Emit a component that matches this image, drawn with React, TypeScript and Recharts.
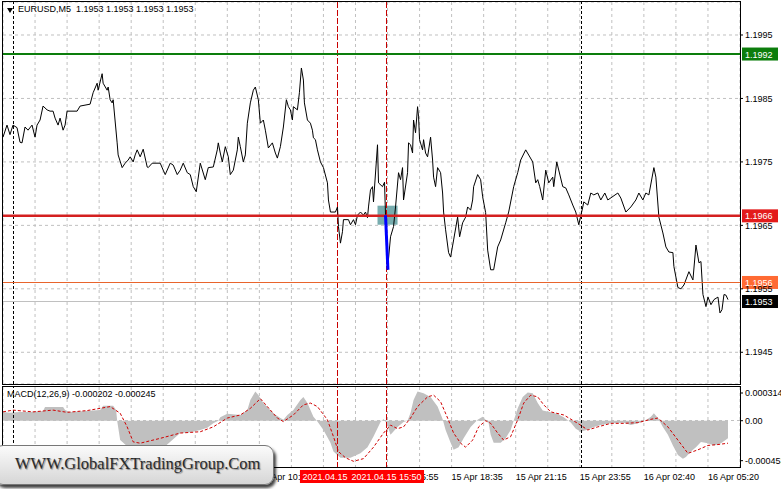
import React from 'react';
import {
  ComposedChart,
  Line,
  Area,
  XAxis,
  YAxis,
  CartesianGrid,
  ReferenceLine,
  ReferenceArea,
} from 'recharts';

const FONT = '"Liberation Sans", Arial, sans-serif';

const priceBars = [
  0, 2, 3.5, 5, 7, 8.5, 9.5, 11, 12.5, 14.5, 16, 17, 18.5, 20, 22, 23.5, 25, 26, 27.5, 28.5,
  30, 31, 32, 37, 38.5, 43.5, 45, 47, 47.5, 49.5, 50, 52, 52.5, 53.5, 54.5, 55, 57, 57.5, 59.5, 61,
  62.5, 63.5, 65, 66, 67, 68.5, 70, 72, 72.5, 74.5, 78.5, 80, 81, 83.5, 85, 87, 88.5, 90, 92, 93.5,
  95, 96.5, 98.5, 101, 102.5, 105, 107, 107.5, 108.5, 109.5, 111, 112.5, 113.5, 115, 117, 117.5, 118.5, 120, 121, 122,
  123.5, 125, 126, 127.5, 128.5, 130, 131, 132.5, 134.5, 136, 137, 138.5, 140, 141.5, 142.5, 143.5, 144.5, 145, 147, 148,
  149, 150, 150.5, 152, 153.5, 154.5, 155, 156, 157, 158.5, 160, 162, 162.5, 163.5, 166, 167, 167.5, 168.5, 169.5, 170,
  172.5, 173.5, 175, 176, 177, 178.5, 180, 181, 182, 182.5, 183.5, 184.5, 185, 187, 187.5, 189.5, 190.5, 191, 192, 193.5,
  195, 196, 197.5, 198.5, 199.5, 200, 202, 202.5, 203.5, 204.5, 205, 206, 207, 207.5, 208, 209.5, 210, 211, 212, 213.5,
  214.5, 215, 216, 217, 218.5, 219.5, 220, 221, 222.5, 223.5, 225, 227, 228, 229.5, 231, 232, 233.5, 234.5, 235, 237,
  238.5, 239.5, 241, 242, 243.5, 245, 247, 248.5, 251, 252.5, 255, 257, 258.5, 261, 264.5, 266, 267, 268, 269.5, 271,
  272.5, 274.5, 275, 276.5, 279.5, 281, 282.5, 284.5, 286, 287.5, 289.5, 290, 292, 293.5, 295, 297, 298.5, 300.5, 302, 307,
  308.5, 311, 313.5, 316, 317.5, 319.5, 321, 322.5, 325, 326, 327.5, 329.5, 331, 332.5, 334.5, 335, 337, 338.5, 340, 342.5,
  344.5, 346, 347.5, 348.5, 349.5, 351, 352, 353.5, 355, 357, 358, 359, 360, 361, 362,
];

const priceValues = [
  1.19789, 1.19808, 1.19793, 1.19808, 1.19804, 1.19781, 1.1978, 1.19805, 1.198, 1.19808, 1.19789, 1.19808, 1.19816, 1.19838, 1.19832, 1.1983, 1.1983, 1.19819, 1.19808, 1.19819,
  1.198, 1.19808, 1.1983, 1.1983, 1.19838, 1.19841, 1.19859, 1.19874, 1.19863, 1.19889, 1.19874, 1.19863, 1.19868, 1.19848, 1.19843, 1.19848, 1.1978, 1.19761, 1.19741, 1.19748,
  1.19753, 1.19758, 1.1975, 1.19761, 1.19769, 1.19758, 1.1977, 1.19742, 1.19741, 1.19748, 1.19748, 1.19737, 1.1973, 1.19748, 1.19745, 1.1973, 1.19737, 1.19748, 1.19733, 1.1973,
  1.19711, 1.19703, 1.19748, 1.19722, 1.19741, 1.19742, 1.19769, 1.1978, 1.19764, 1.1975, 1.19774, 1.19758, 1.1973, 1.19737, 1.19769, 1.19789, 1.19774, 1.1975, 1.19761, 1.19811,
  1.19843, 1.19863, 1.19868, 1.19848, 1.19811, 1.19816, 1.198, 1.19772, 1.1978, 1.19764, 1.19756, 1.19774, 1.19805, 1.19848, 1.19837, 1.19832, 1.19816, 1.19837, 1.19832, 1.19859,
  1.19898, 1.19879, 1.19843, 1.19816, 1.19811, 1.198, 1.19788, 1.19785, 1.19769, 1.1975, 1.19741, 1.19717, 1.1969, 1.19671, 1.19671, 1.19679, 1.19648, 1.19622, 1.1964, 1.19659,
  1.19659, 1.19651, 1.19659, 1.19651, 1.19666, 1.19671, 1.19666, 1.19671, 1.19662, 1.19679, 1.19706, 1.19711, 1.19687, 1.19777, 1.19717, 1.19711, 1.19718, 1.19666, 1.1958, 1.19632,
  1.19648, 1.19679, 1.19733, 1.19722, 1.19741, 1.1969, 1.19733, 1.1978, 1.19777, 1.19764, 1.19816, 1.19796, 1.19837, 1.19821, 1.19785, 1.19769, 1.19785, 1.19764, 1.19758, 1.19789,
  1.19753, 1.19726, 1.19711, 1.19741, 1.19733, 1.19701, 1.19671, 1.19643, 1.19607, 1.196, 1.19627, 1.19663, 1.19632, 1.19654, 1.19663, 1.19679, 1.19674, 1.1969, 1.19711, 1.1973,
  1.19722, 1.19695, 1.1967, 1.19611, 1.1958, 1.1958, 1.19616, 1.19627, 1.19654, 1.19671, 1.19711, 1.19733, 1.19753, 1.19769, 1.1975, 1.19717, 1.19722, 1.19711, 1.1969, 1.19737,
  1.19717, 1.19726, 1.19711, 1.1975, 1.19711, 1.19709, 1.19698, 1.19682, 1.19671, 1.19651, 1.19679, 1.19687, 1.19682, 1.19701, 1.19698, 1.19701, 1.1969, 1.19701, 1.1969, 1.19701,
  1.19693, 1.19671, 1.19679, 1.1969, 1.19701, 1.1969, 1.19701, 1.19698, 1.19741, 1.19726, 1.19663, 1.19638, 1.19616, 1.19608, 1.19607, 1.19585, 1.19552, 1.1955, 1.19556, 1.19577,
  1.19564, 1.19619, 1.19591, 1.19593, 1.19541, 1.19522, 1.19537, 1.19525, 1.19533, 1.19537, 1.19512, 1.19517, 1.19541, 1.1954, 1.19533,
];

// MACD histogram outline
const histBars = [
  0, 3.5, 8.5, 13.5, 20, 21, 30, 31, 33.5, 48.5, 50, 55, 56.5, 57, 58.5, 62, 65, 68.5, 73.5, 81,
  88.5, 93.5, 98.5, 102, 105, 107.5, 108.5, 112, 118.5, 122, 123.5, 126, 127.5, 130, 135, 138.5, 140, 142, 145, 148.5,
  150, 152, 155, 157, 160, 163.5, 165, 168.5, 173.5, 178.5, 182, 185, 188.5, 190, 191.5, 193.5, 197, 200, 202, 203.5,
  205, 207, 210, 213.5, 217, 219.5, 221, 223.5, 225, 227.5, 230, 233.5, 237, 239.5, 241, 242.5, 243.5, 245, 248.5, 251,
  253.5, 255, 257, 259.5, 262, 264.5, 267, 269.5, 273.5, 277, 280, 283.5, 286, 288.5, 292, 295, 298.5, 303.5, 310, 313.5,
  317, 320, 323.5, 325, 327, 329.5, 332, 334.5, 337, 339.5, 341, 343.5, 346, 348.5, 352, 355, 358.5, 362,
];

const histValues = [
  0.0001, 0.00009, 0.0001, 0.0001, 0.00011, 0.000155, 0.000155, 0.00012, 0.0001, 0.00012, 0.00017, 0.00017, 0.00012, 0, -0.00022, -0.00029, -0.00036, -0.00039, -0.00036, -0.00029,
  -0.00014, -0.00013, -0.000105, -0.00008, -0.00003, 0, 0.00004, 0.00008, 0.000065, 0.00012, 0.000235, 0.00033, 0.00029, 0.0002, 0.000085, 0.00003, 0.00001, 0.000065, 0.00012, 0.000235,
  0.00027, 0.0002, 0.000045, -0.00001, -0.000105, -0.00025, -0.00035, -0.00042, -0.00042, -0.00037, -0.0003, -0.00018, -0.000015, 0.00002, -0.00003, -0.00016, -0.00007, -0.000015, 0, 0.00009,
  0.000235, 0.00033, 0.00031, 0.00027, 0.00016, 0.00002, -0.000105, -0.00025, -0.00033, -0.0003, -0.0002, -0.00007, 0.00001, 0.000045, 0.00001, -0.00003, -0.00016, -0.00025, -0.00025, -0.0002,
  -0.000105, 0, 0.00014, 0.00027, 0.00032, 0.00031, 0.0002, 0.000115, 0.000095, 0.000075, 0.00004, -0.00002, -0.00009, -0.000125, -0.0001, -0.00007, -0.00005, -0.00003, -0.000022, -0.00005,
  -0.00003, -0.00001, 0.000045, 0.000085, 0.00003, -0.00007, -0.00016, -0.00028, -0.00039, -0.00043, -0.00041, -0.00035, -0.0003, -0.00024, -0.000255, -0.00028, -0.000255, -0.0002,
];

// MACD signal line
const signalBars = [
  0, 5, 15, 25, 32, 42, 48.5, 53.5, 58.5, 62, 65, 68.5, 78.5, 88.5, 98.5, 105, 112, 118.5, 123.5, 128.5,
  132, 137, 140, 145, 150, 153.5, 157, 162, 165, 167.5, 171, 175, 180, 185, 190, 193.5, 197, 200, 203.5, 207,
  212, 215, 218.5, 222, 225, 228.5, 231, 234.5, 237.5, 241, 243.5, 247, 250, 253.5, 257, 260, 263.5, 267, 270, 273.5,
  280, 287, 292, 297, 303.5, 310, 317, 323.5, 327, 332, 337, 342, 347, 352, 357, 362,
];

const signalValues = [
  0.0001, 0.00012, 0.0001, 0.00012, 0.000095, 0.000115, 0.00014, 0.00016, 0.000085, -0.00007, -0.00024, -0.000255, -0.0002, -0.00014, -0.000125, -0.00007, 0.00003, 0.000065, 0.00014, 0.00025,
  0.00016, 0.00003, -0.00001, 0.000065, 0.00018, 0.0002, 0.00016, 0.00001, -0.00018, -0.00035, -0.00042, -0.00046, -0.00043, -0.0003, -0.00014, -0.00005, -0.00009, -0.00007, 0.00003, 0.00016,
  0.00027, 0.00029, 0.000215, 0.00003, -0.00014, -0.000255, -0.0003, -0.00022, -0.00007, 0, -0.00003, -0.00014, -0.00022, -0.00018, 0.00001, 0.0002, 0.00029, 0.00027, 0.00018, 0.0001,
  0.000065, -0.00003, -0.000105, -0.00007, -0.00003, -0.00003, -0.000022, 0.000016, 0.00003, -0.00007, -0.00022, -0.00037, -0.00033, -0.00028, -0.00027, -0.000255,
];

const priceTicks = [1.1945, 1.1955, 1.1965, 1.1975, 1.1985, 1.1995];
const macdTicks = [0.000314, 0, -0.000453];
const gridBars = [16, 32, 48, 64, 80, 96, 112, 128, 144, 160, 176, 192, 208, 224, 240, 256, 272, 288, 304, 320, 336, 352];
const timeTickBars = [32, 64, 96, 128, 160, 192, 224, 256, 288, 320, 352];
const timeTickLabels = [
  '15 Apr 02:35', '15 Apr 05:15', '15 Apr 07:55', '15 Apr 10:35', '15 Apr 13:15', '15 Apr 15:55',
  '15 Apr 18:35', '15 Apr 21:15', '15 Apr 23:55', '16 Apr 02:40', '16 Apr 05:20',
];

const priceData = priceBars.map((bar, i) => ({ bar, price: priceValues[i] }));
const histData = histBars.map((bar, i) => ({ bar, hist: histValues[i] }));
const signalData = signalBars.map((bar, i) => ({ bar, signal: signalValues[i] }));

const MAIN_DOMAIN = [1.194, 1.20002];
const MACD_DOMAIN = [-0.000536, 0.000382];
const MARKER_RED = '#c80000';

const priceTag = (text: string, bg: string) => (props: any) => {
  const vb = props.viewBox;
  if (!vb) return null;
  const x = Math.max(vb.x, vb.x + vb.width) + 2;
  const y = vb.y;
  return (
    <g>
      <rect x={x} y={y - 6.5} width={36} height={13} fill={bg} />
      <text x={x + 3} y={y + 3.5} fill="#fff" fontSize={9} fontFamily={FONT}>
        {text}
      </text>
    </g>
  );
};

const timeTag = (text: string) => (props: any) => {
  const vb = props.viewBox;
  if (!vb) return null;
  const bottom = Math.max(vb.y, vb.y + vb.height);
  return (
    <g>
      <rect x={vb.x - 37.5} y={bottom + 2} width={75} height={13} fill="#ff0000" />
      <text x={vb.x} y={bottom + 12} fill="#fff" fontSize={9} fontFamily={FONT} textAnchor="middle">
        {text}
      </text>
    </g>
  );
};

const TimeTick = (props: any) => {
  const { x, y, payload } = props;
  const idx = timeTickBars.indexOf(payload.value);
  if (idx < 0) return <g />;
  return (
    <text x={x} y={y + 12} textAnchor="start" fontSize={9} fontFamily={FONT} fill="#000">
      {timeTickLabels[idx]}
    </text>
  );
};

const tickStyle = { fontSize: 9, fontFamily: FONT, fill: '#000' };
const abs = (top: number): React.CSSProperties => ({ position: 'absolute', left: 0, top });

const App: React.FC = () => {
  return (
    <div style={{ position: 'absolute', left: 0, top: 0, width: 781, height: 489, background: '#fff', overflow: 'hidden' }}>
      <div style={abs(0)}>
        <ComposedChart width={781} height={386} margin={{ top: 2, right: 0, bottom: 2, left: 3 }}>
          <CartesianGrid stroke="#c0c0c0" strokeDasharray="3 3" />
          <XAxis type="number" dataKey="bar" domain={[0, 368]} ticks={gridBars} interval={0} hide allowDataOverflow />
          <YAxis
            orientation="right"
            width={41}
            domain={MAIN_DOMAIN}
            ticks={priceTicks}
            interval={0}
            allowDataOverflow
            axisLine={false}
            tickLine={{ stroke: '#000' }}
            tickSize={3}
            tickMargin={2}
            tick={tickStyle}
            tickFormatter={(v: number) => v.toFixed(4)}
          />
          <ReferenceLine x={5} stroke="#000" strokeDasharray="3 2" shapeRendering="crispEdges" />
          <ReferenceLine x={289} stroke="#000" strokeDasharray="3 2" shapeRendering="crispEdges" />
          <ReferenceLine x={167} stroke={MARKER_RED} strokeDasharray="6 2" shapeRendering="crispEdges" />
          <ReferenceLine x={191.5} stroke={MARKER_RED} strokeDasharray="6 2" shapeRendering="crispEdges" />
          <ReferenceArea x1={187} x2={197} y1={1.19651} y2={1.19681} fill="#5f9ea0" fillOpacity={0.85} stroke="none" />
          <ReferenceLine y={1.1953} stroke="#c0c0c0" shapeRendering="crispEdges" label={priceTag('1.1953', '#000')} />
          <Line data={priceData} dataKey="price" type="linear" stroke="#000" strokeWidth={1} dot={false} isAnimationActive={false} />
          <ReferenceLine y={1.1992} stroke="#0c7d0c" strokeWidth={2} label={priceTag('1.1992', '#0c7d0c')} />
          <ReferenceLine y={1.19665} stroke="#d42020" strokeWidth={2.5} label={priceTag('1.1966', '#e31b1b')} />
          <ReferenceLine y={1.1956} stroke="#e8642c" strokeWidth={1} shapeRendering="crispEdges" label={priceTag('1.1956', '#ff6a33')} />
          <ReferenceLine
            segment={[{ x: 191, y: 1.19666 }, { x: 192.2, y: 1.1958 }]}
            stroke="#0000ff"
            strokeWidth={3}
          />
        </ComposedChart>
      </div>

      {/* MACD panel with the time axis */}
      <div style={abs(386)}>
        <ComposedChart width={781} height={103} margin={{ top: 1, right: 0, bottom: 0, left: 3 }}>
          <CartesianGrid horizontal={false} stroke="#c0c0c0" strokeDasharray="3 3" />
          <XAxis
            type="number"
            dataKey="bar"
            domain={[0, 368]}
            ticks={gridBars}
            interval={0}
            allowDataOverflow
            axisLine={false}
            tickLine={false}
            tickSize={0}
            tickMargin={0}
            height={21}
            tick={<TimeTick />}
          />
          <YAxis
            orientation="right"
            width={41}
            domain={MACD_DOMAIN}
            ticks={macdTicks}
            interval={0}
            allowDataOverflow
            axisLine={false}
            tickLine={{ stroke: '#000' }}
            tickSize={3}
            tickMargin={2}
            tick={tickStyle}
            tickFormatter={(v: number) => (v === 0 ? '0.00' : String(v))}
          />
          <ReferenceLine y={0} stroke="#c0c0c0" strokeDasharray="3 3" shapeRendering="crispEdges" />
          <ReferenceLine x={5} stroke="#000" strokeDasharray="3 2" shapeRendering="crispEdges" />
          <ReferenceLine x={289} stroke="#000" strokeDasharray="3 2" shapeRendering="crispEdges" />
          <Area
            data={histData}
            dataKey="hist"
            type="linear"
            baseValue={0}
            fill="#c0c0c0"
            fillOpacity={1}
            stroke="none"
            isAnimationActive={false}
          />
          <Line
            data={signalData}
            dataKey="signal"
            type="linear"
            stroke="#d00000"
            strokeWidth={1}
            strokeDasharray="3 2"
            dot={false}
            isAnimationActive={false}
          />
        </ComposedChart>
      </div>

      {/* vertical time markers, drawn over the time axis labels */}
      <div style={abs(386)}>
        <ComposedChart width={781} height={103} margin={{ top: 1, right: 0, bottom: 0, left: 3 }}>
          <XAxis type="number" dataKey="bar" domain={[0, 368]} allowDataOverflow axisLine={false} tickLine={false} tick={false} height={21} />
          <YAxis orientation="right" width={41} domain={MACD_DOMAIN} allowDataOverflow axisLine={false} tickLine={false} tick={false} />
          <ReferenceLine x={167} stroke={MARKER_RED} strokeDasharray="6 2" shapeRendering="crispEdges" label={timeTag('2021.04.15 13:50')} />
          <ReferenceLine x={191.5} stroke={MARKER_RED} strokeDasharray="6 2" shapeRendering="crispEdges" label={timeTag('2021.04.15 15:50')} />
        </ComposedChart>
      </div>

      {/* panel frames */}
      <div style={{ position: 'absolute', left: 2, top: 1, width: 739, height: 384, border: '1px solid #000', boxSizing: 'border-box', pointerEvents: 'none' }} />
      <div style={{ position: 'absolute', left: 2, top: 386, width: 739, height: 82, border: '1px solid #000', boxSizing: 'border-box', pointerEvents: 'none' }} />

      <div style={{ position: 'absolute', left: 7, top: 8, width: 0, height: 0, borderLeft: '3px solid transparent', borderRight: '3px solid transparent', borderTop: '5px solid #000' }} />
      <div style={{ position: 'absolute', left: 18, top: 4, fontSize: 9, fontFamily: FONT, whiteSpace: 'pre', color: '#000' }}>
        {'EURUSD,M5  1.1953 1.1953 1.1953 1.1953'}
      </div>
      <div style={{ position: 'absolute', left: 7, top: 389, fontSize: 9, fontFamily: FONT, whiteSpace: 'pre', color: '#000' }}>
        {'MACD(12,26,9) -0.000202 -0.000245'}
      </div>

      {/* watermark */}
      <div
        style={{
          position: 'absolute',
          left: -6,
          top: 445,
          width: 280,
          height: 40,
          borderRadius: 9,
          background: 'linear-gradient(#fbfbfb, #d6d6d6)',
          border: '1px solid #777',
          boxShadow: '2px 3px 3px rgba(0,0,0,0.75)',
          boxSizing: 'border-box',
        }}
      >
        <div
          style={{
            position: 'absolute',
            left: 20,
            top: 8,
            fontFamily: '"Liberation Serif", "DejaVu Serif", serif',
            fontSize: 16.5,
            color: '#2b2b2b',
            whiteSpace: 'nowrap',
            textShadow: '1px 1px 1px #888',
          }}
        >
          WWW.GlobalFXTradingGroup.Com
        </div>
      </div>
    </div>
  );
};

export default App;
